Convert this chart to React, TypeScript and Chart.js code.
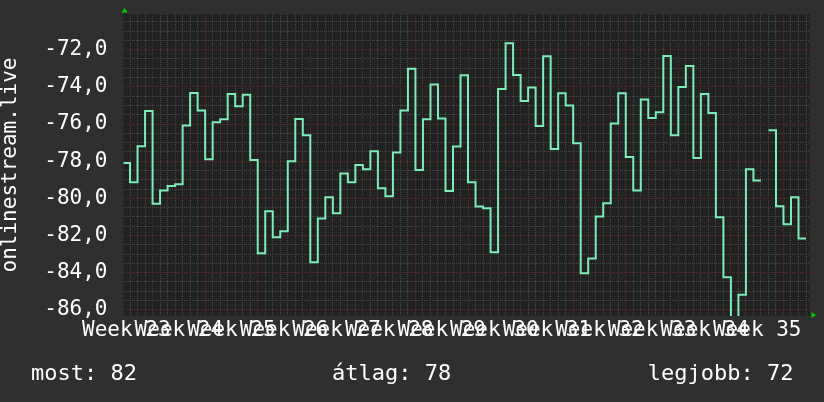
import { useEffect, useRef } from 'react';
import { Chart, registerables } from 'chart.js';

Chart.register(...registerables);

// one value per day, null = no data
const dailyValues: (number | null)[] = [
  -78.1, -79.13, -77.19, -75.3, -80.29, -79.58, -79.34, -79.24, -76.08, -74.33,
  -75.27, -77.89, -75.9, -75.75, -74.39, -75.05, -74.42, -77.94, -82.95, -80.69,
  -82.09, -81.77, -78.0, -75.73, -76.6, -83.44, -81.08, -79.94, -80.8, -78.66,
  -79.13, -78.21, -78.43, -77.46, -79.45, -79.88, -77.53, -75.27, -73.02, -78.48,
  -75.75, -73.87, -75.7, -79.61, -77.21, -73.38, -79.13, -80.44, -80.53, -82.9,
  -74.12, -71.66, -73.36, -74.76, -74.03, -76.11, -72.36, -77.35, -74.35, -75.0,
  -77.04, -84.03, -83.24, -80.98, -80.26, -75.97, -74.35, -77.78, -79.58, -74.68,
  -75.68, -75.36, -72.34, -76.6, -74.01, -72.88, -77.83, -74.39, -75.41, -81.01,
  -84.24, -86.6, -85.18, -78.43, -79.04, null, -76.33, -80.42, -81.39, -79.94,
  -82.16,
];

const weekLabels = [
  'Week 23', 'Week 24', 'Week 25', 'Week 26', 'Week 27', 'Week 28', 'Week 29',
  'Week 30', 'Week 31', 'Week 32', 'Week 33', 'Week 34', 'Week 35',
];

const yLabelValues = [-72, -74, -76, -78, -80, -82, -84, -86];

const footerLabels = ['most', 'átlag', 'legjobb'];
const footerValues = [82, 78, 72];

const axisTitle = 'onlinestream.live';

const FONT = "'DejaVu Sans Mono', monospace";
const MINOR = '#474747';
const MAJOR = '#642727';

const X_MIN = 0.13;
const X_MAX = 91.53;
const WEEK_START = 4; // first week gridline (day index)

const plotBg = {
  id: 'plotBg',
  beforeDraw(chart: Chart) {
    const { ctx, chartArea: a } = chart;
    ctx.save();
    ctx.fillStyle = '#222222';
    ctx.fillRect(a.left, a.top, a.right - a.left, a.bottom - a.top);
    ctx.restore();
  },
  afterDraw(chart: Chart) {
    const { ctx, chartArea: a } = chart;
    ctx.save();
    ctx.fillStyle = '#00d000';
    ctx.beginPath();
    ctx.moveTo(a.left + 1, a.top - 6);
    ctx.lineTo(a.left - 2, a.top - 1.5);
    ctx.lineTo(a.left + 4, a.top - 1.5);
    ctx.closePath();
    ctx.fill();
    ctx.beginPath();
    ctx.moveTo(a.right + 6, a.bottom - 1);
    ctx.lineTo(a.right + 1.5, a.bottom - 4);
    ctx.lineTo(a.right + 1.5, a.bottom + 2);
    ctx.closePath();
    ctx.fill();
    ctx.restore();
  },
};

export default function App() {
  const canvasRef = useRef<HTMLCanvasElement>(null);
  const chartRef = useRef<Chart | null>(null);

  useEffect(() => {
    document.body.style.margin = '0';
    if (!canvasRef.current) return;

    // step points; close each run so the last day of it gets drawn
    const points: { x: number; y: number | null }[] = [];
    dailyValues.forEach((v, i) => {
      if (v === null) {
        points.push({ x: i + 0.5, y: null });
        return;
      }
      points.push({ x: i, y: v });
      const next = dailyValues[i + 1];
      if (next === undefined || next === null) points.push({ x: i + 1, y: v });
    });

    const yTicks: number[] = [];
    for (let v = -86; v <= -70.5; v += 0.5) yTicks.push(v);

    chartRef.current?.destroy();
    chartRef.current = new Chart(canvasRef.current, {
      type: 'line',
      data: {
        datasets: [
          {
            data: points as any,
            borderColor: '#78eeb8',
            borderWidth: 2,
            stepped: true,
            pointRadius: 0,
            fill: false,
            spanGaps: false,
          },
        ],
      },
      options: {
        responsive: true,
        maintainAspectRatio: false,
        animation: false,
        layout: { padding: { top: 14, right: 14, left: 0, bottom: 0 } },
        plugins: { legend: { display: false }, tooltip: { enabled: false } },
        scales: {
          x: {
            type: 'linear',
            min: X_MIN,
            max: X_MAX,
            afterBuildTicks: (s: any) => {
              const t = [];
              for (let d = 1; d <= 91; d++) t.push({ value: d });
              s.ticks = t;
            },
            ticks: { display: false },
            grid: {
              drawTicks: false,
              color: (c: any) => ((c.tick?.value - WEEK_START) % 7 === 0 ? MAJOR : MINOR),
            },
            border: { display: false, dash: [1, 1] },
          },
          xWeeks: {
            type: 'linear',
            position: 'bottom',
            min: X_MIN,
            max: X_MAX,
            afterBuildTicks: (s: any) => {
              s.ticks = weekLabels.map((_, i) => ({ value: WEEK_START - 3.5 + 7 * i }));
            },
            afterFit: (s: any) => {
              s.height = 86;
            },
            ticks: {
              autoSkip: false,
              maxRotation: 0,
              padding: 2,
              color: '#ffffff',
              font: { family: FONT, size: 21 },
              callback: (_v: any, i: number) => weekLabels[i],
            },
            grid: { display: false, drawTicks: false },
            border: { display: false },
          },
          y: {
            type: 'linear',
            min: -86.33,
            max: -70.08,
            afterBuildTicks: (s: any) => {
              s.ticks = yTicks.map((v) => ({ value: v }));
            },
            afterFit: (s: any) => {
              s.width = 123.5;
              s.paddingTop = 0;
              s.paddingBottom = 0;
            },
            ticks: {
              autoSkip: false,
              padding: 16,
              color: '#ffffff',
              font: { family: FONT, size: 21 },
              callback: (v: any) =>
                yLabelValues.includes(v) ? Number(v).toFixed(1).replace('.', ',') : '',
            },
            grid: {
              drawTicks: false,
              color: (c: any) => (Number.isInteger(c.tick?.value / 2) ? MAJOR : MINOR),
            },
            border: { display: false, dash: [1, 1] },
            title: {
              display: true,
              text: axisTitle,
              color: '#ffffff',
              font: { family: FONT, size: 21, lineHeight: 1 },
              padding: { top: 0, bottom: 0 },
            },
          },
        },
      },
      plugins: [plotBg],
    });
    return () => {
      chartRef.current?.destroy();
      chartRef.current = null;
    };
  }, []);

  const footerText = footerLabels.map((l, i) => `${l}: ${footerValues[i]}`);
  const footerStyle = {
    position: 'absolute' as const,
    top: 360,
    fontFamily: FONT,
    fontSize: 22,
    lineHeight: '26px',
    color: '#ffffff',
    whiteSpace: 'pre' as const,
  };

  return (
    <div style={{ position: 'relative', width: 824, height: 402, background: '#2f2f2f' }}>
      <canvas ref={canvasRef} />
      <div style={{ ...footerStyle, left: 31 }}>{footerText[0]}</div>
      <div style={{ ...footerStyle, left: 332 }}>{footerText[1]}</div>
      <div style={{ ...footerStyle, right: 30.5 }}>{footerText[2]}</div>
    </div>
  );
}
